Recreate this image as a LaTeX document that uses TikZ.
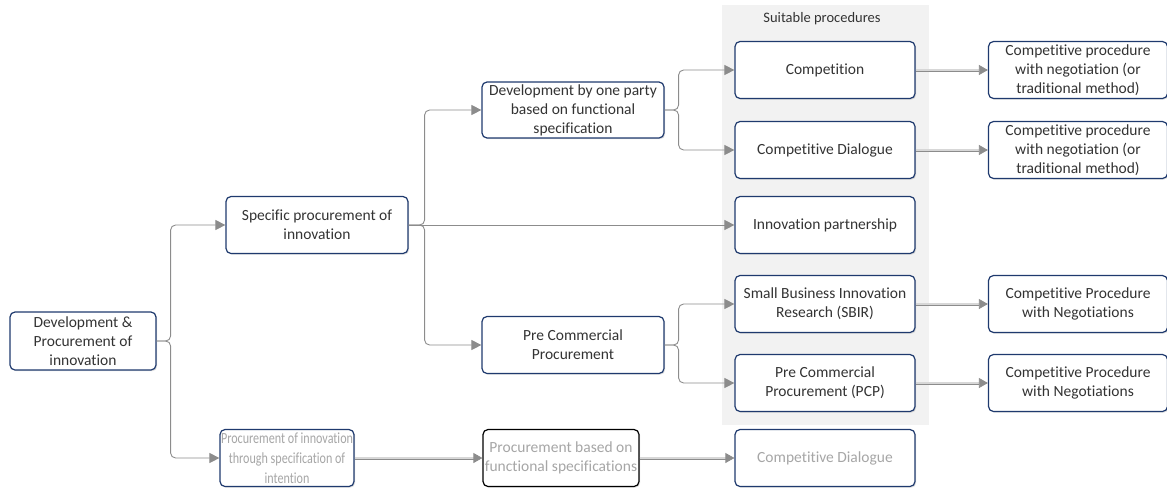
\documentclass[tikz,border=0pt]{standalone}
\usepackage{fontspec}
\setmainfont{Carlito}[Ligatures=NoCommon]
\newfontfamily\narrowfont{Carlito}[Ligatures=NoCommon, FakeStretch=0.78]
\usetikzlibrary{arrows.meta,shadows}

\definecolor{boxline}{HTML}{1F3A6E}
\definecolor{txt}{HTML}{333333}
\definecolor{faint}{HTML}{A6A6A6}
\definecolor{conn}{HTML}{8C8C8C}
\definecolor{band}{HTML}{F2F2F2}

\tikzset{
  box/.style={draw=boxline, line width=1.2pt, rounded corners=5pt, fill=white,
    align=center, text=txt, minimum width=180pt, minimum height=57pt,
    inner sep=1pt, font=\fontsize{15.5}{19}\selectfont,
    drop shadow={opacity=0.25, shadow xshift=1.2pt, shadow yshift=-1.2pt}},
  fbox/.style={box, text=faint},
  elbow/.style={draw=conn, line width=0.9pt, rounded corners=5pt,
    -{Triangle[length=10pt,width=10pt]}},
  dbl/.style={draw=conn, line width=0.7pt, double=conn!35, double distance=1.6pt,
    -{Triangle[length=9pt,width=10pt]}},
}

\begin{document}
\begin{tikzpicture}[x=1pt,y=-1pt]
\useasboundingbox (0,0) rectangle (1167,488);
\fill[band] (722,5) rectangle (929,425);
\node[text=txt, font=\fontsize{14.5}{16}\selectfont] (suit) at (822,19) {Suitable procedures};

\node[box, minimum width=146pt, minimum height=58pt] (root) at (83,341) {Development \&\\Procurement of\\innovation};
\node[box, minimum width=182pt] (spec) at (317,225) {Specific procurement of\\innovation};
\node[fbox, minimum width=132pt, font=\narrowfont\fontsize{15.5}{20}\selectfont] (intent) at (287,458) {Procurement of innovation\\through specification of\\intention};
\node[box, minimum width=182pt, minimum height=56pt] (party) at (573,110) {Development by one party\\based on functional\\specification};
\node[box, minimum width=182pt] (pcp) at (573,345) {Pre Commercial\\Procurement};
\node[fbox, draw=black, minimum width=156pt] (funcspec) at (561,458) {Procurement based on\\functional specifications};

\node[box] (compet) at (825,70) {Competition};
\node[box] (cdial) at (825,150) {Competitive Dialogue};
\node[box] (ipart) at (825,225) {Innovation partnership};
\node[box] (sbir) at (825,304) {Small Business Innovation\\Research (SBIR)};
\node[box] (pcproc) at (825,383) {Pre Commercial\\Procurement (PCP)};
\node[fbox] (cdial2) at (825,458) {Competitive Dialogue};

\node[box, minimum width=179pt] (cpn1) at (1078,70) {Competitive procedure\\with negotiation (or\\traditional method)};
\node[box, minimum width=179pt] (cpn2) at (1078,150) {Competitive procedure\\with negotiation (or\\traditional method)};
\node[box, minimum width=179pt] (cpwn1) at (1078,304) {Competitive Procedure\\with Negotiations};
\node[box, minimum width=179pt] (cpwn2) at (1078,383) {Competitive Procedure\\with Negotiations};

\draw[elbow] (root.east) -- ++(14,0) |- (spec.west);
\draw[elbow] (root.east) -- ++(14,0) |- (intent.west);
\draw[elbow] (spec.east) -- ++(16,0) |- (party.west);
\draw[elbow] (spec.east) -- ++(16,0) |- (pcp.west);
\draw[elbow] (spec.east) -- (ipart.west);
\draw[elbow] (party.east) -- ++(14,0) |- (compet.west);
\draw[elbow] (party.east) -- ++(14,0) |- (cdial.west);
\draw[elbow] (pcp.east) -- ++(14,0) |- (sbir.west);
\draw[elbow] (pcp.east) -- ++(14,0) |- (pcproc.west);

\draw[dbl] (compet) -- (cpn1);
\draw[dbl] (cdial) -- (cpn2);
\draw[dbl] (sbir) -- (cpwn1);
\draw[dbl] (pcproc) -- (cpwn2);
\draw[dbl] (intent) -- (funcspec);
\draw[dbl] (funcspec) -- (cdial2);

\end{tikzpicture}
\end{document}
